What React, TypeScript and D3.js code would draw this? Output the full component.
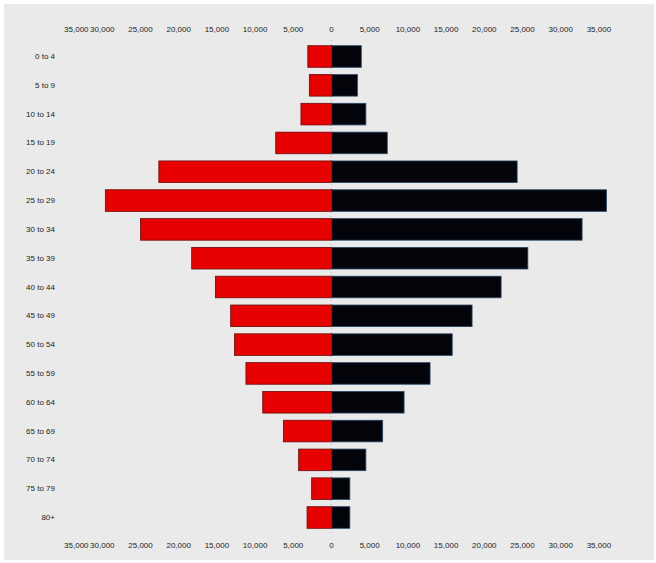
import React from "react";
import * as d3 from "d3";

const ageGroups = [
  "0 to 4", "5 to 9", "10 to 14", "15 to 19", "20 to 24", "25 to 29", "30 to 34",
  "35 to 39", "40 to 44", "45 to 49", "50 to 54", "55 to 59", "60 to 64",
  "65 to 69", "70 to 74", "75 to 79", "80+",
];
const maleValues = [
  3100, 2900, 4000, 7300, 22600, 29600, 25000, 18300, 15200, 13200, 12700,
  11200, 9000, 6300, 4300, 2600, 3200,
];
const femaleValues = [
  3900, 3400, 4500, 7300, 24300, 36000, 32800, 25700, 22200, 18400, 15800,
  12900, 9500, 6700, 4500, 2400, 2400,
];
const tickValues = [
  -35000, -30000, -25000, -20000, -15000, -10000, -5000, 0, 5000, 10000,
  15000, 20000, 25000, 30000, 35000,
];

const W = 656;
const H = 563;

export default function App() {
  const x = d3.scaleLinear().domain([-35000, 35000]).range([64.1, 598.9]);
  const y = d3
    .scaleBand<string>()
    .domain(ageGroups)
    .range([42.1, 531.9])
    .paddingInner(0.25)
    .paddingOuter(0.125);
  const fmt = d3.format(",");
  const font = "'Liberation Sans', Arial, sans-serif";
  const x0 = x(0);

  return (
    <svg
      width={W}
      height={H}
      style={{ position: "absolute", left: 0, top: 0, display: "block" }}
    >
      <rect x={0} y={0} width={W} height={H} fill="#ffffff" />
      <rect x={4} y={4} width={650} height={556} fill="#eaeaea" />
      <line
        x1={x0}
        x2={x0}
        y1={40}
        y2={534}
        stroke="#b8b8b8"
        strokeWidth={1}
        strokeDasharray="1,3"
      />
      {ageGroups.map((g, i) => (
        <g key={g}>
          <rect
            x={x(-maleValues[i])}
            y={y(g)}
            width={x0 - x(-maleValues[i])}
            height={y.bandwidth()}
            fill="#e60000"
            stroke="#6a0a0a"
            strokeWidth={0.8}
          />
          <rect
            x={x0}
            y={y(g)}
            width={x(femaleValues[i]) - x0}
            height={y.bandwidth()}
            fill="#03040a"
            stroke="#2a4a6a"
            strokeWidth={0.8}
          />
          <text
            x={55}
            y={(y(g) as number) + y.bandwidth() / 2}
            textAnchor="end"
            dominantBaseline="central"
            fontFamily={font}
            fontSize={8}
            fill="#222"
          >
            {g}
          </text>
        </g>
      ))}
      {[29, 545].map((ty) =>
        tickValues.map((t, i) => (
          <text
            key={`${ty}-${t}`}
            x={x(t)}
            y={ty}
            textAnchor={i === 0 ? "start" : "middle"}
            dominantBaseline="central"
            fontFamily={font}
            fontSize={8}
            fill="#222"
          >
            {fmt(Math.abs(t))}
          </text>
        ))
      )}
    </svg>
  );
}
